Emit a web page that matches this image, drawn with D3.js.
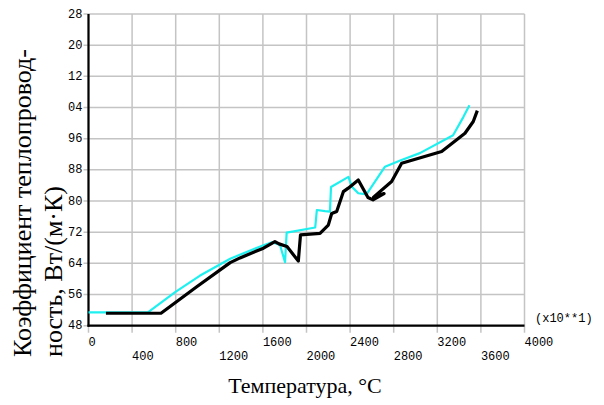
<!DOCTYPE html>
<html>
<head>
<meta charset="utf-8">
<script src="https://cdn.jsdelivr.net/npm/d3@7"></script>
<style>
  html, body { margin: 0; padding: 0; background: #fff; }
  svg { display: block; }
</style>
</head>
<body>
<svg id="chart" width="604" height="405"></svg>
<script>
// Temperature axis ticks (shown in units of x10 °C)
const xTicks = [0, 400, 800, 1200, 1600, 2000, 2400, 2800, 3200, 3600, 4000];
const xTickLabels = ["0", "400", "800", "1200", "1600", "2000", "2400", "2800", "3200", "3600", "4000"];

// Conductivity ticks; labels keep only the last two digits
const yTicks = [48, 56, 64, 72, 80, 88, 96, 104, 112, 120, 128];
const yTickLabels = ["48", "56", "64", "72", "80", "88", "96", "04", "12", "20", "28"];

// Cyan curve: temperature, conductivity
const cyanT = [0, 545, 795, 1020, 1300, 1600, 1683, 1757, 1803, 1818, 2080, 2095, 2170, 2215, 2225, 2385, 2415, 2475, 2550, 2720, 2860, 3040, 3345, 3440, 3495];
const cyanK = [51.4, 51.4, 56.6, 60.8, 65.2, 68.6, 69.4, 68.7, 64.3, 71.9, 73.2, 77.7, 77.4, 77.3, 83.6, 86.2, 83.7, 82.0, 81.7, 88.8, 90.4, 92.3, 96.9, 101.6, 104.6];

// Black curve: temperature, conductivity
const blackT = [160, 665, 993, 1300, 1390, 1605, 1710, 1748, 1821, 1925, 1945, 2124, 2200, 2231, 2277, 2338, 2383, 2475, 2564, 2610, 2711, 2615, 2781, 2873, 3240, 3454, 3530, 3567];
const blackK = [51.2, 51.2, 58.0, 64.2, 65.4, 67.9, 69.6, 69.0, 68.3, 64.6, 71.3, 71.7, 73.8, 76.8, 77.3, 82.4, 83.3, 85.4, 80.9, 80.3, 81.9, 81.0, 85.0, 89.7, 92.7, 97.4, 100.4, 103.2];

const xTitle = "Температура, °C";
const yTitleLines = ["Коэффициент теплопровод-", "ность, Вт/(м·К)"];
const scaleNote = "(x10**1)";

const svg = d3.select("#chart");
const plot = { left: 88.5, right: 524.5, top: 14, bottom: 325.7 };

const x = d3.scaleLinear().domain([0, 4000]).range([plot.left, plot.right]);
const y = d3.scaleLinear().domain([48, 128]).range([plot.bottom, plot.top]);

const monoFont = "'Liberation Mono', 'DejaVu Sans Mono', monospace";
const serifFont = "'Liberation Serif', 'DejaVu Serif', serif";

// Grid lines (extend a little past the axes as tick marks)
const grid = svg.append("g").attr("stroke", "#c4c4c4").attr("stroke-width", 1.5);
grid.selectAll("line.v").data(xTicks).join("line")
  .attr("x1", d => x(d)).attr("x2", d => x(d))
  .attr("y1", plot.top).attr("y2", plot.bottom + 7);
grid.selectAll("line.h").data(yTicks).join("line")
  .attr("x1", plot.left - 5).attr("x2", plot.right)
  .attr("y1", d => y(d)).attr("y2", d => y(d));

// Axis lines
svg.append("line").attr("x1", plot.left).attr("x2", plot.left)
  .attr("y1", plot.top).attr("y2", plot.bottom + 1)
  .attr("stroke", "#000").attr("stroke-width", 2.2);
svg.append("line").attr("x1", plot.left - 1).attr("x2", plot.right)
  .attr("y1", plot.bottom).attr("y2", plot.bottom)
  .attr("stroke", "#000").attr("stroke-width", 2.2);

// Y tick labels
svg.append("g").selectAll("text").data(yTicks).join("text")
  .attr("x", plot.left - 6)
  .attr("y", d => y(d) + 3.5)
  .attr("text-anchor", "end")
  .attr("font-family", monoFont).attr("font-size", 12)
  .text((d, i) => yTickLabels[i]);

// X tick labels in two staggered rows, starting at the tick
svg.append("g").selectAll("text").data(xTicks).join("text")
  .attr("x", d => x(d))
  .attr("y", (d, i) => i % 2 === 0 ? 345.7 : 359.5)
  .attr("text-anchor", "start")
  .attr("font-family", monoFont).attr("font-size", 12)
  .text((d, i) => xTickLabels[i]);

svg.append("text").attr("x", 535).attr("y", 322)
  .attr("font-family", monoFont).attr("font-size", 12)
  .text(scaleNote);

// Curves
const line = d3.line().x(d => x(d[0])).y(d => y(d[1]));
svg.append("path")
  .datum(d3.zip(cyanT, cyanK))
  .attr("d", line).attr("fill", "none")
  .attr("stroke", "#1ef0f0").attr("stroke-width", 2.2)
  .attr("stroke-linejoin", "round");
svg.append("path")
  .datum(d3.zip(blackT, blackK))
  .attr("d", line).attr("fill", "none")
  .attr("stroke", "#000").attr("stroke-width", 3.2)
  .attr("stroke-linejoin", "round");

// Axis titles
svg.append("text").attr("x", 305).attr("y", 393)
  .attr("text-anchor", "middle")
  .attr("font-family", serifFont).attr("font-size", 22)
  .text(xTitle);

svg.append("g").selectAll("text").data(yTitleLines).join("text")
  .attr("transform", (d, i) => `translate(${i === 0 ? 31 : 62},357) rotate(-90)`)
  .attr("text-anchor", "start")
  .attr("font-family", serifFont).attr("font-size", 26)
  .text(d => d);
</script>
</body>
</html>
